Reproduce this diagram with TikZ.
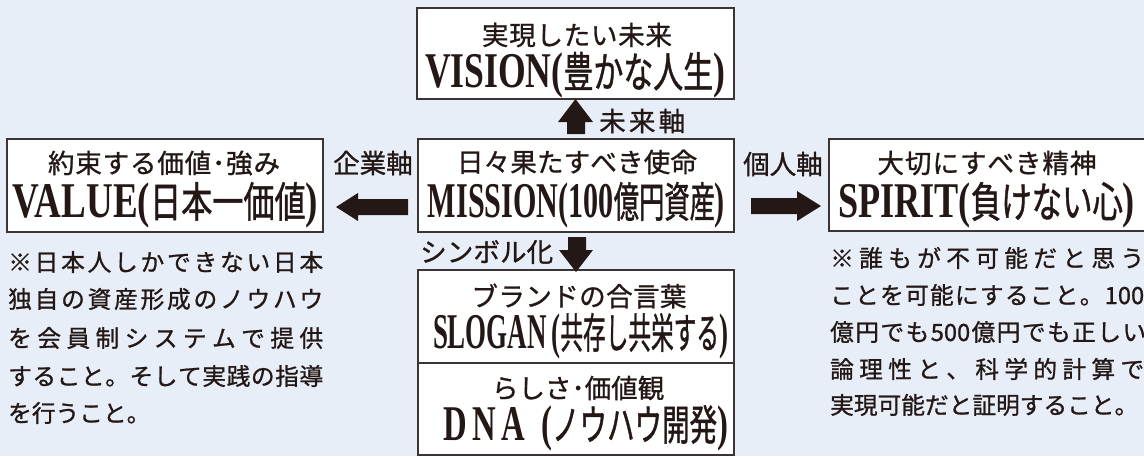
\documentclass[tikz,border=0pt]{standalone}
\usepackage{fontspec}
\usepackage{graphicx}
\newfontfamily\jpt[FakeBold=1.3]{Noto Sans CJK JP}
\newfontfamily\jpm[FakeBold=1.0]{Noto Sans CJK JP}
\newfontfamily\tlat{Liberation Serif}
\definecolor{bg}{RGB}{232,238,248}
\definecolor{ink}{RGB}{35,24,21}
\definecolor{boxc}{RGB}{60,52,52}
\newcommand\ttl[2]{\resizebox{#1}{\height}{#2}}
\newcommand\tL[1]{{\tlat\bfseries\fontsize{50}{50}\selectfont #1}}
\newcommand\tJ[1]{{\jpt\fontsize{42}{42}\selectfont #1}}
\ExplSyntaxOn
\NewDocumentCommand\spreadline{mm}
  {
    \makebox[#1][s]
      {
        \bool_set_true:N \l_tmpa_bool
        \tl_map_inline:nn {#2}
          {
            \bool_if:NTF \l_tmpa_bool
              { \bool_set_false:N \l_tmpa_bool }
              { \hfil }
            ##1
          }
      }
  }
\ExplSyntaxOff
\begin{document}
\begin{tikzpicture}[x=1pt,y=-1pt,
  box/.style={draw=boxc, line width=1.6pt, fill=white, inner sep=0pt, rectangle},
  hd/.style={inner sep=0pt, font=\jpm\fontsize{26.5}{26.5}\selectfont, text=ink},
  ttlnode/.style={inner sep=0pt, text=ink},
  ax/.style={inner sep=0pt, anchor=west, font=\jpm\fontsize{26.5}{26.5}\selectfont, text=ink},
  note/.style={inner sep=0pt, anchor=west, font=\jpm\fontsize{23.7}{23.7}\selectfont, text=ink},
  blk/.style={fill=ink}]
\fill[bg] (0,0) rectangle (1144,456);
\useasboundingbox (0,0) rectangle (1144,456);
% boxes
\node[box, minimum width=317pt, minimum height=91pt] (vision) at (575.5,53.5) {};
\node[box, minimum width=316pt, minimum height=93pt] (mission) at (576,185.5) {};
\node[box, minimum width=316pt, minimum height=93pt] (value) at (165,185.5) {};
\node[box, minimum width=321pt, minimum height=92pt] (spirit) at (989.5,185) {};
\node[box, minimum width=316pt, minimum height=93pt] (slogan) at (576,316.5) {};
\node[box, minimum width=316pt, minimum height=92pt] (dna) at (576,409) {};
% box texts
\node[hd] (visionh) at (577,35) {\spreadline{190pt}{実現したい未来}};
\node[ttlnode] (visiont) at (575,75) {\ttl{300pt}{\tL{VISION(}\tJ{豊かな人生}\tL{)}}};
\node[hd] (valueh) at (164,163) {\spreadline{232pt}{約束する価値･強み}};
\node[ttlnode] (valuet) at (165.5,205) {\ttl{305pt}{\tL{VALUE(}\tJ{日本一価値}\tL{)}}};
\node[hd] (missionh) at (577,162) {\spreadline{240pt}{日々果たすべき使命}};
\node[ttlnode] (missiont) at (576.5,205) {\ttl{297pt}{\tL{MISSION(100}\tJ{億円資産}\tL{)}}};
\node[hd] (spirith) at (987,163) {\spreadline{219pt}{大切にすべき精神}};
\node[ttlnode] (spiritt) at (986.5,205) {\ttl{297pt}{\tL{SPIRIT(}\tJ{負けない心}\tL{)}}};
\node[hd] (sloganh) at (579,296) {\spreadline{215pt}{ブランドの合言葉}};
\node[ttlnode] (slogant) at (580.5,336) {\ttl{295pt}{\tL{SLOGAN\,(}\tJ{共存し共栄する}\tL{)}}};
\node[hd] (dnah) at (576,388) {\spreadline{168pt}{らしさ･価値観}};
\node[ttlnode] (dnat) at (585.5,428) {\ttl{285pt}{\tL{D\,N\,A\ \ (}\tJ{ノウハウ開発}\tL{)}}};
% block arrows
\fill[blk] (567,134) -- (567,122) -- (558,122) -- (575.5,99) -- (593,122) -- (585,122) -- (585,134) -- cycle;
\fill[blk] (568,237) -- (586,237) -- (586,250) -- (593,250) -- (576,272) -- (559,250) -- (568,250) -- cycle;
\fill[blk] (408,199) -- (358,199) -- (358,193) -- (336,207) -- (358,221) -- (358,215) -- (408,215) -- cycle;
\fill[blk] (751,198) -- (797,198) -- (797,191) -- (821,206) -- (797,221) -- (797,214) -- (751,214) -- cycle;
% axis labels
\node[ax] (fut) at (599,121) {\spreadline{86pt}{未来軸}};
\node[ax] (corp) at (333,163) {\spreadline{77pt}{企業軸}};
\node[ax] (pers) at (743,164) {\spreadline{77pt}{個人軸}};
\node[ax] (sym) at (420,252) {\spreadline{133pt}{シンボル化}};
% notes
\node[note] (l1) at (8,262) {\spreadline{315pt}{※日本人しかできない日本}};
\node[note] (l2) at (8,299) {\spreadline{315pt}{独自の資産形成のノウハウ}};
\node[note] (l3) at (8,338) {\spreadline{315pt}{を会員制システムで提供}};
\node[note] (l4) at (8,376) {\spreadline{315pt}{すること。そして実践の指導}};
\node[note] (l5) at (8,413) {を行うこと。};
\node[note] (r1) at (830,258) {\spreadline{314pt}{※誰もが不可能だと思う}};
\node[note] (r2) at (830,295) {\spreadline{314pt}{ことを可能にすること。{100}}};
\node[note] (r3) at (830,332) {\spreadline{316pt}{億円でも{500}億円でも正しい}};
\node[note] (r4) at (830,369) {\spreadline{314pt}{論理性と、科学的計算で}};
\node[note] (r5) at (830,405) {実現可能だと証明すること。};
\end{tikzpicture}
\end{document}
